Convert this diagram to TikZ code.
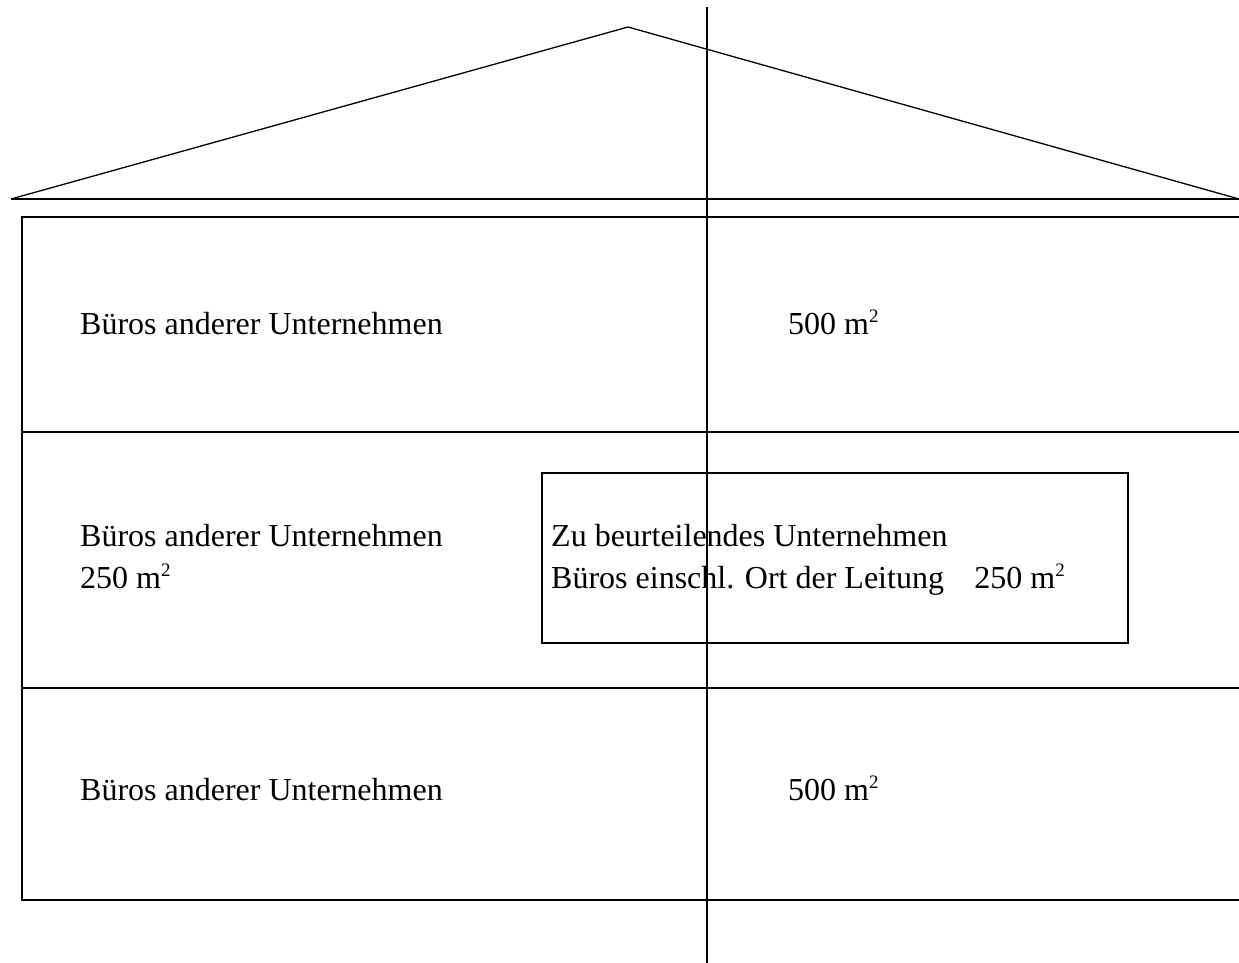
\documentclass[tikz,border=0pt]{standalone}
\usepackage{fontspec}
\setmainfont{Liberation Serif}
\newcommand{\sqm}{m\raisebox{12pt}{\fontsize{19}{20}\selectfont 2}}
\begin{document}
\begin{tikzpicture}[x=1pt,y=-1pt,
  wall/.style={line width=1.6pt},
  roof/.style={line width=1.3pt, line join=miter},
  lbl/.style={anchor=base west, inner sep=0pt, font=\fontsize{32}{38}\selectfont}]
\useasboundingbox (0,0) rectangle (1239,963);
% roof
\draw[roof] (11,199) -- (628,27) -- (1239,199);
\draw[roof] (11,199) -- (1239,199);
% floors
\draw[wall] (1239,217) -- (22,217) -- (22,900) -- (1239,900);
\draw[wall] (22,432) -- (1239,432);
\draw[wall] (22,688) -- (1239,688);
% inner box
\draw[wall] (542,473) rectangle (1128,643);
% vertical axis
\draw[line width=1.3pt] (707,7) -- (707,963);
% texts
\node[lbl] (t1) at (80,334) {Büros anderer Unternehmen};
\node[lbl] (a1) at (788,334) {500 \sqm};
\node[lbl] (t2) at (80,546) {Büros anderer Unternehmen};
\node[lbl] (a2) at (80,588) {250 \sqm};
\node[lbl] (b1) at (551,546) {Zu beurteilendes Unternehmen};
\node[lbl] (b2) at (551,588) {Büros einschl. Ort der Leitung\hspace{0.95em}250 \sqm};
\node[lbl] (t3) at (80,800) {Büros anderer Unternehmen};
\node[lbl] (a3) at (788,800) {500 \sqm};
\end{tikzpicture}
\end{document}
